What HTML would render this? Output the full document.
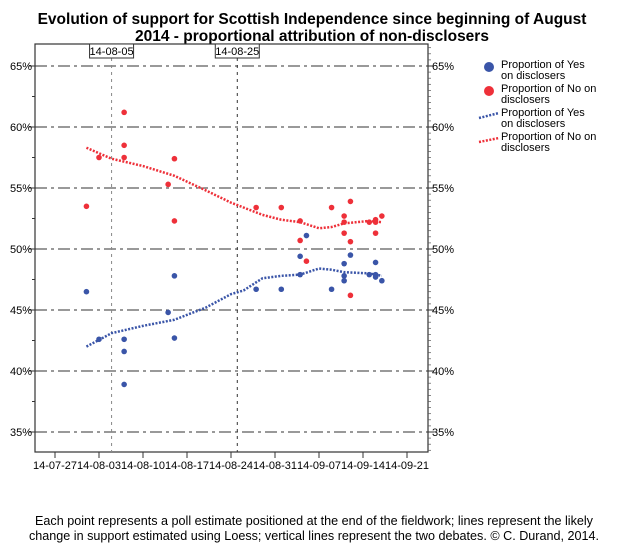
<!DOCTYPE html>
<html><head><meta charset="utf-8"><style>
body{margin:0;background:#fff;font-family:"Liberation Sans",Arial,sans-serif}
svg{display:block}
</style></head><body>
<svg width="625" height="560" viewBox="0 0 625 560">
<text x="312" y="24" text-anchor="middle" font-weight="bold" font-size="15.5">Evolution of support for Scottish Independence since beginning of August</text>
<text x="312" y="41" text-anchor="middle" font-weight="bold" font-size="15.5">2014 - proportional attribution of non-disclosers</text>
<g id="plot"></g>
<g id="legend" font-size="11">
<circle cx="489" cy="67" r="5" fill="#3a55a8"/><text x="501" y="68">Proportion of Yes</text><text x="501" y="79">on disclosers</text>
<circle cx="489" cy="91" r="5" fill="#ee3039"/><text x="501" y="92">Proportion of No on</text><text x="501" y="103">disclosers</text>
<line x1="479" y1="118" x2="499" y2="113" stroke="#3a55a8" stroke-width="2.5" stroke-dasharray="2,1.5"/><text x="501" y="116">Proportion of Yes</text><text x="501" y="127">on disclosers</text>
<line x1="479" y1="142" x2="499" y2="138" stroke="#ee3039" stroke-width="2.5" stroke-dasharray="2,1.5"/><text x="501" y="140">Proportion of No on</text><text x="501" y="151">disclosers</text>
</g>
<text x="314" y="525" text-anchor="middle" font-size="12.6">Each point represents a poll estimate positioned at the end of the fieldwork; lines represent the likely</text>
<text x="314" y="540" text-anchor="middle" font-size="12.6">change in support estimated using Loess; vertical lines represent the two debates. © C. Durand, 2014.</text>
</svg>
<script>
const yesDays=[5,7,11,11,11,18,19,19,32,36,39,39,40,44,46,46,46,47,51,51,51,50,52];
const yesVals=[46.5,42.6,42.6,41.6,38.9,44.8,47.8,42.7,46.7,46.7,49.4,47.9,51.1,46.7,48.8,47.8,47.4,49.5,48.9,47.9,47.7,47.9,47.4];
const noDays=[5,7,11,11,11,18,19,19,32,36,39,39,40,44,46,46,46,47,47,47,51,51,51,50,52];
const noVals=[53.5,57.5,61.2,58.5,57.5,55.3,57.4,52.3,53.4,53.4,52.3,50.7,49.0,53.4,52.7,52.2,51.3,53.9,50.6,46.2,52.2,52.4,51.3,52.2,52.7];
const loessDays=[5,9,14,19,24,28,30,33,36,39,42,44,46,50,52];
const loessNo=[58.3,57.4,56.8,56.0,54.8,53.8,53.4,52.8,52.4,52.2,51.7,51.8,52.1,52.3,52.2];
const loessYes=[42.0,43.1,43.7,44.2,45.2,46.3,46.6,47.6,47.8,47.9,48.4,48.3,48.1,48.0,47.8];
const yTicks=[35,40,45,50,55,60,65];
const xTickLabels=["14-07-27","14-08-03","14-08-10","14-08-17","14-08-24","14-08-31","14-09-07","14-09-14","14-09-21"];
const debateDays=[9,29];
const debateLabels=["14-08-05","14-08-25"];
const NS="http://www.w3.org/2000/svg";
const L=35,R=428,T=44,B=452;
const xs=d=>55+d*44/7;
const ys=v=>249-(v-50)*12.2;
const g=document.getElementById('plot');
function el(t,a,p){const e=document.createElementNS(NS,t);for(const k in a)e.setAttribute(k,a[k]);(p||g).appendChild(e);return e;}
const frame=el('rect',{x:L,y:T,width:R-L,height:B-T,fill:'none',stroke:'#333','stroke-width':1.2});


for(let v=32.5;v<=67.5;v+=2.5){const y=ys(v);if(y<T||y>B)continue;el('line',{x1:L-3,x2:L,y1:y,y2:y,stroke:'#333'});}
for(let v=33;v<=66.5;v+=0.5){const y=ys(v);if(y<T||y>B)continue;el('line',{x1:R,x2:R+3,y1:y,y2:y,stroke:'#555','stroke-width':0.7});}
yTicks.forEach(v=>{const y=ys(v);
const gl=el('line',{x1:L,x2:R,y1:y,y2:y,stroke:'#333','stroke-dasharray':'12,4,3,4'});


el('line',{x1:L-6,x2:L,y1:y,y2:y,stroke:'#333'});el('line',{x1:R,x2:R+6,y1:y,y2:y,stroke:'#333'});
const t1=el('text',{x:L-3,y:y+4,'text-anchor':'end','font-size':11});t1.textContent=v+'%';


const t2=el('text',{x:R+4,y:y+4,'font-size':11});t2.textContent=v+'%';


});
xTickLabels.forEach((s,i)=>{const x=xs(i*7);
el('line',{x1:x,x2:x,y1:B,y2:B+6,stroke:'#333'});
const t=el('text',{x:x,y:B+17,'text-anchor':'middle','font-size':11});t.textContent=s;


});
debateDays.forEach((d,i)=>{const x=xs(d);
const ln=el('line',{x1:x,x2:x,y1:T,y2:B,stroke:i?'#333':'#888','stroke-dasharray':'3,4'});


el('rect',{x:x-22,y:T,width:44,height:14,fill:'#fff',stroke:'#333'});
const t=el('text',{x:x,y:T+11,'text-anchor':'middle','font-size':11});t.textContent=debateLabels[i];


});
function loess(vals,col,name){const pts=loessDays.map((d,i)=>xs(d)+','+ys(vals[i])).join(' ');
const p=el('polyline',{points:pts,fill:'none',stroke:col,'stroke-width':2.5,'stroke-dasharray':'2,1.5'});

}
loess(loessNo,'#ee3039','loess-no');
loess(loessYes,'#3a55a8','loess-yes');
yesDays.forEach((d,i)=>{const c=el('circle',{cx:xs(d),cy:ys(yesVals[i]),r:2.8,fill:'#3a55a8'});

});
noDays.forEach((d,i)=>{const c=el('circle',{cx:xs(d),cy:ys(noVals[i]),r:2.8,fill:'#ee3039'});

});
</script>
</body></html>
